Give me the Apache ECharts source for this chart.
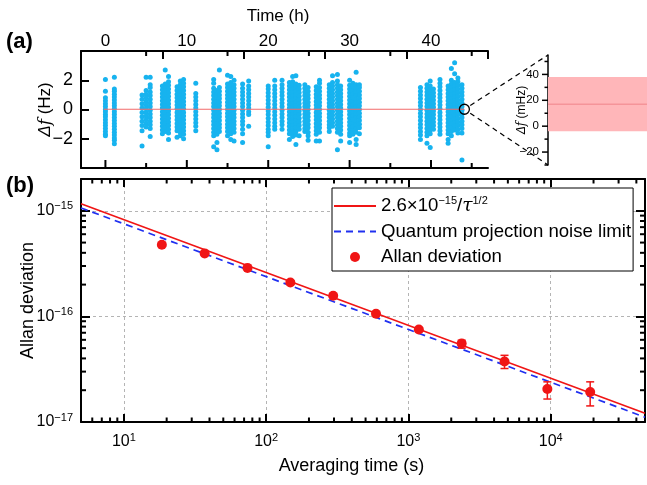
<!DOCTYPE html>
<html><head><meta charset="utf-8">
<script src="https://cdn.jsdelivr.net/npm/echarts@6/dist/echarts.min.js"></script>
<style>html,body{margin:0;padding:0;background:#fff}#c{width:647px;height:485px}</style>
</head><body><div id="c"></div>
<script>
// ---------- Panel (a): frequency deviation vs time ----------
const aColTimes = [0.0, 1.1, 4.5, 5.0, 5.5, 7.0, 7.35, 7.75, 8.8, 9.2, 9.6, 11.1, 13.3, 13.7, 14.0, 15.0, 15.4, 15.8, 16.85, 17.6,
  20.0, 20.8, 21.7, 22.6, 23.0, 23.4, 23.8, 24.5, 24.9, 25.9, 26.3, 27.5, 27.9, 28.5, 28.9, 30.0, 30.4, 30.8, 31.2,
  38.7, 39.5, 39.9, 40.3, 41.1, 42.1, 42.5, 42.9, 43.3, 43.8];
const aColValues = [
  [2.05,1.25,0.8,0.6,0.4,0.2,0.0,-0.15,-0.35,-0.5,-0.7,-0.9,-1.1,-1.3,-1.5,-1.7,-1.8],
  [2.2,1.4,1.25,1.05,0.85,0.65,0.45,0.25,0.05,-0.15,-0.35,-0.55,-0.75,-0.95,-1.15,-1.35,-1.55,-1.75,-1.95,-2.1,-2.35],
  [1.0,0.7,0.4,0.1,-0.2,-0.5,-0.8,-1.1,-1.45,-2.5],
  [2.2,1.3,1.05,0.8,0.55,0.3,0.05,-0.2,-0.45,-0.7,-0.95,-1.2],
  [2.2,1.7,1.5,1.2,0.95,0.7,0.45,0.2,-0.05,-0.3,-0.55,-0.8,-1.05,-1.3,-1.85],
  [1.6,1.35,1.1,0.85,0.6,0.35,0.1,-0.15,-0.4,-0.65,-0.9,-1.15,-1.4,-1.65],
  [2.7,1.75,1.5,1.25,1.0,0.75,0.5,0.25,0.0,-0.25,-0.5,-0.75,-1.0,-1.25,-1.5],
  [2.25,1.9,1.65,1.4,1.15,0.9,0.65,0.4,0.15,-0.1,-0.35,-0.6,-0.85,-1.1,-1.35,-1.6,-2.05],
  [1.55,1.3,1.05,0.8,0.55,0.3,0.05,-0.2,-0.45,-0.7,-0.95,-1.2,-1.45,-1.9],
  [1.95,1.7,1.45,1.2,0.95,0.7,0.45,0.2,-0.05,-0.3,-0.55,-0.8,-1.05,-1.3,-1.55,-1.8],
  [2.05,1.8,1.55,1.3,1.05,0.8,0.55,0.3,0.05,-0.2,-0.45,-0.7,-0.95,-1.2,-1.45,-1.7,-2.0],
  [1.8,1.1,0.85,0.6,0.35,0.1,-0.15,-0.4,-0.65,-0.9,-1.15,-1.45],
  [2.05,1.8,1.45,1.2,0.95,0.7,0.45,0.2,-0.05,-0.3,-0.55,-0.8,-1.05,-1.3,-1.55,-1.8,-2.55],
  [1.3,1.05,0.8,0.55,0.3,0.05,-0.2,-0.45,-0.7,-0.95,-1.2,-1.45,-1.7,-2.25,-2.75],
  [2.7,1.5,1.25,1.0,0.75,0.5,0.25,0.0,-0.25,-0.5,-0.75,-1.0,-1.25,-1.5],
  [2.35,1.75,1.5,1.25,1.0,0.75,0.5,0.25,0.0,-0.25,-0.5,-0.75,-1.0,-1.25,-1.5,-1.8],
  [2.25,1.85,1.6,1.35,1.1,0.85,0.6,0.35,0.1,-0.15,-0.4,-0.65,-0.9,-1.15,-1.4,-1.65,-2.05],
  [2.0,1.7,1.45,1.2,0.95,0.7,0.45,0.2,-0.05,-0.3,-0.55,-0.8,-1.05,-1.3,-1.55,-2.15],
  [1.75,1.45,1.2,0.95,0.7,0.45,0.2,-0.05,-0.3,-0.55,-0.8,-1.05,-1.35,-1.65,-2.25],
  [1.95,1.6,1.35,1.1,0.85,0.6,0.35,0.1,-0.15,-0.35,-1.15],
  [1.6,1.4,1.15,0.9,0.65,0.4,0.15,-0.1,-0.35,-0.6,-0.85,-1.1,-1.35,-1.55,-1.8,-2.55],
  [2.0,1.6,1.35,1.1,0.85,0.6,0.35,0.1,-0.15,-0.4,-0.65,-0.9,-1.15,-1.35],
  [2.0,1.7,1.45,1.2,0.95,0.7,0.45,0.2,-0.05,-0.3,-0.55,-0.8,-1.05,-1.35],
  [1.85,1.6,1.35,1.1,0.85,0.6,0.35,0.1,-0.15,-0.4,-0.65,-0.9,-1.15,-1.4,-1.65,-2.05],
  [2.25,1.9,1.65,1.4,1.15,0.9,0.65,0.4,0.15,-0.1,-0.35,-0.6,-0.85,-1.1,-1.35,-1.6,-1.85],
  [2.3,1.75,1.5,1.25,1.0,0.75,0.5,0.25,0.0,-0.25,-0.5,-0.75,-1.0,-1.25,-1.5,-1.75,-2.4],
  [1.65,1.4,1.15,0.9,0.65,0.4,0.15,-0.1,-0.35,-0.6,-0.85,-1.1,-1.35,-1.8],
  [1.7,1.45,1.2,0.95,0.7,0.45,0.2,-0.05,-0.3,-0.55,-0.8,-1.05,-1.3,-1.5],
  [1.5,1.25,1.0,0.75,0.5,0.25,0.0,-0.25,-0.5,-0.75,-1.0,-1.25,-1.55,-1.8,-2.1],
  [1.55,1.3,1.05,0.8,0.55,0.3,0.05,-0.2,-0.45,-0.7,-0.95,-1.2,-1.45,-1.7,-2.15],
  [2.0,1.8,1.5,1.25,1.0,0.75,0.5,0.25,0.0,-0.25,-0.5,-0.75,-1.0,-1.25,-1.55,-2.15],
  [1.7,1.45,1.2,0.95,0.7,0.45,0.2,-0.05,-0.3,-0.55,-0.8,-1.05,-1.25,-1.5],
  [2.3,1.85,1.6,1.35,1.1,0.85,0.6,0.35,0.1,-0.15,-0.4,-0.65,-0.9,-1.15],
  [2.4,1.95,1.7,1.45,1.2,0.95,0.7,0.45,0.2,-0.05,-0.3,-0.55,-0.8,-1.05,-1.3,-1.55,-2.75],
  [1.6,1.35,1.1,0.85,0.6,0.35,0.1,-0.15,-0.4,-0.65,-0.9,-1.15,-1.4,-1.7,-2.15],
  [2.0,1.65,1.4,1.15,0.9,0.65,0.4,0.15,-0.1,-0.35,-0.6,-0.85,-1.1,-1.35,-1.6,-1.8,-2.25],
  [1.8,1.55,1.3,1.05,0.8,0.55,0.3,0.05,-0.2,-0.45,-0.7,-0.95,-1.2,-1.45,-1.7],
  [2.55,1.7,1.45,1.2,0.95,0.7,0.45,0.2,-0.05,-0.3,-0.55,-0.8,-1.05,-1.3,-1.55,-2.05,-2.4],
  [1.7,1.5,1.25,1.0,0.75,0.5,0.25,0.0,-0.25,-0.5,-0.75,-1.0,-1.25,-1.65],
  [1.5,1.25,1.0,0.75,0.5,0.25,0.0,-0.25,-0.5,-0.75,-1.0,-1.25,-1.5,-1.75,-2.05],
  [1.7,1.45,1.2,0.95,0.7,0.45,0.2,-0.05,-0.3,-0.55,-0.8,-1.05,-1.3,-1.55,-1.8,-2.3],
  [1.95,1.6,1.35,1.1,0.85,0.6,0.35,0.1,-0.15,-0.4,-0.65,-0.9,-1.15,-1.4,-1.65,-2.6],
  [1.4,1.15,0.9,0.65,0.4,0.15,-0.1,-0.35,-0.6,-0.85,-1.1,-1.35],
  [2.05,1.8,1.55,1.3,1.05,0.8,0.55,0.3,0.05,-0.2,-0.45,-0.7,-0.95,-1.2,-1.45,-1.7],
  [1.6,1.35,1.1,0.85,0.6,0.35,0.1,-0.15,-0.4,-0.65,-0.9,-1.15,-1.4,-1.65,-2.05,-2.3],
  [2.8,2.0,1.75,1.5,1.25,1.0,0.75,0.5,0.25,0.0,-0.25,-0.5,-0.75,-1.0,-1.25,-1.5,-1.8],
  [3.2,2.45,1.85,1.6,1.35,1.1,0.85,0.6,0.35,0.1,-0.15,-0.4,-0.65,-0.9,-1.15,-1.4],
  [2.15,1.9,1.65,1.4,1.15,0.9,0.65,0.4,0.15,-0.1,-0.35,-0.6,-0.85,-1.1,-1.35,-1.6],
  [1.7,1.45,1.2,0.95,0.7,0.45,0.2,-0.05,-0.3,-0.55,-0.8,-1.05,-1.3,-1.6,-3.45]
];
const aMeanLineTimes = [-0.2, 44.1];
const aMeanLineValues = [0.017, 0.017];
const aZoomPoint = [44.1, 0.017];
const aTimeLabels = [0, 10, 20, 30, 40];
const aTimeMinor = [5, 15, 25, 35, 45];
const aFreqLabels = [-2, 0, 2];

// ---------- Inset ----------
const insetMean = 17;        // mHz
const insetBand = [-4, 38];  // mHz
const insetLabels = [-20, 0, 20, 40];
const insetMinor = [-30, -10, 10, 30, 50];

// ---------- Panel (b): Allan deviation ----------
const tau = [18.5, 37, 74, 148, 296, 592, 1184, 2368, 4736, 9472, 18944];
const adev = [4.77e-16, 3.95e-16, 2.88e-16, 2.09e-16, 1.57e-16, 1.06e-16, 7.5e-17, 5.53e-17, 3.74e-17, 2.05e-17, 1.92e-17];
const adevLow = [4.70e-16, 3.88e-16, 2.82e-16, 2.04e-16, 1.53e-16, 1.03e-16, 7.2e-17, 5.0e-17, 3.21e-17, 1.65e-17, 1.42e-17];
const adevHigh = [4.84e-16, 4.02e-16, 2.94e-16, 2.14e-16, 1.61e-16, 1.09e-16, 7.8e-17, 5.95e-17, 4.28e-17, 2.40e-17, 2.40e-17];
const fitTau = [5, 46000];
const fitVals = [1.163e-15, 1.212e-17];   // 2.6e-15 / sqrt(tau)
const qpnTau = [5, 46000];
const qpnVals = [1.064e-15, 1.110e-17];
const xMajor = [10, 100, 1000, 10000];
const xMinor = [6,7,8,9,20,30,40,50,60,70,80,90,200,300,400,500,600,700,800,900,2000,3000,4000,5000,6000,7000,8000,9000,20000,30000,40000];
const yMajor = [1e-17, 1e-16, 1e-15];
const yMinor = [2e-17,3e-17,4e-17,5e-17,6e-17,7e-17,8e-17,9e-17,2e-16,3e-16,4e-16,5e-16,6e-16,7e-16,8e-16,9e-16,2e-15];

const FONT = 'Liberation Sans, Arial, sans-serif';
const fitName = 'fit';
const qpnName = 'Quantum projection noise limit';
const adName = 'Allan deviation';

const aData = [];
aColTimes.forEach((t, i) => aColValues[i].forEach(v => aData.push([t, v])));

function pow10Label(v) {
  const e = Math.round(Math.log10(v));
  return '{b|10}{s|' + (e < 0 ? '\u2212' : '') + Math.abs(e) + '}';
}
const powRich = {
  b: { fontSize: 16, fontFamily: FONT, color: '#000', lineHeight: 20, verticalAlign: 'middle' },
  s: { fontSize: 11, fontFamily: FONT, color: '#000', lineHeight: 11, verticalAlign: 'top' }
};

const blackLine = { show: true, onZero: false, lineStyle: { color: '#000', width: 2 } };
const hideTick = { show: false };
function nativeTick(len, inside) {
  return { show: true, inside: inside !== false, length: len, lineStyle: { color: '#000', width: 2 } };
}

const chart = echarts.init(document.getElementById('c'), null, { renderer: 'canvas' });

const option = {
  animation: false,
  backgroundColor: '#fff',
  textStyle: { fontFamily: FONT },
  grid: [
    { left: 81, top: 51, width: 407, height: 117 },
    { left: 81, top: 179, width: 564, height: 243 },
    { left: 548, top: 55, width: 99, height: 110 }
  ],
  legend: {
    data: [
      { name: fitName, itemStyle: { opacity: 0 } },
      { name: qpnName, itemStyle: { opacity: 0 } },
      { name: adName }
    ],
    orient: 'vertical',
    left: 332, top: 188,
    itemWidth: 42, itemHeight: 10, itemGap: 3.5,
    padding: [7, 2, 3, 1],
    borderColor: '#000', borderWidth: 1, backgroundColor: '#fff',
    formatter: n => n === fitName ? '2.6×10{s|\u221215}/{t|τ}{s|1/2}' : n,
    textStyle: {
      fontSize: 18.6, color: '#000', fontFamily: FONT, lineHeight: 22,
      rich: {
        s: { fontSize: 11, fontFamily: FONT, color: '#000', lineHeight: 11, verticalAlign: 'top' },
        t: { fontSize: 18.6, fontFamily: 'DejaVu Serif, serif', fontStyle: 'italic', color: '#000', lineHeight: 22 }
      }
    }
  },
  xAxis: [
    // 0: panel a top (labels)
    { type: 'value', gridIndex: 0, position: 'top', min: -3, max: 47, interval: 10, axisLine: blackLine, axisTick: nativeTick(8),
      axisLabel: { customValues: aTimeLabels, fontSize: 17, color: '#000', margin: 1, fontFamily: FONT },
      splitLine: { show: false },
      name: 'Time (h)', nameLocation: 'middle', nameGap: 26, nameMoveOverlap: false,
      nameTextStyle: { fontSize: 17, color: '#000', fontFamily: FONT, padding: [0, 13, 0, 0] } },
    // 1: panel a bottom
    { type: 'value', gridIndex: 0, position: 'bottom', min: -3, max: 47, axisLine: blackLine, axisTick: hideTick,
      axisLabel: { show: false }, splitLine: { show: false } },
    // 2: panel b bottom (log)
    { type: 'log', logBase: 10, gridIndex: 1, position: 'bottom', min: 5, max: 46000, axisLine: blackLine, axisTick: nativeTick(8),
      axisLabel: { customValues: xMajor, formatter: pow10Label, rich: powRich, margin: 10 },
      splitLine: { show: true, lineStyle: { color: '#b4b4b4', type: [3, 3], width: 1 } },
      name: 'Averaging time (s)', nameLocation: 'middle', nameGap: 35, nameMoveOverlap: false,
      nameTextStyle: { fontSize: 18, color: '#000', fontFamily: FONT, padding: [0, 23, 0, 0] } },
    // 3: panel b top
    { type: 'log', logBase: 10, gridIndex: 1, position: 'top', min: 5, max: 46000, axisLine: blackLine, axisTick: nativeTick(8),
      axisLabel: { show: false }, splitLine: { show: false } },
    // 4: inset hidden x
    { type: 'value', gridIndex: 2, min: 0, max: 1, show: false }
  ],
  yAxis: [
    // 0: panel a left
    { type: 'value', gridIndex: 0, position: 'left', min: -4, max: 4, interval: 2, axisLine: blackLine, axisTick: nativeTick(8),
      axisLabel: { customValues: aFreqLabels, fontSize: 18, color: '#000', margin: 8, fontFamily: FONT,
        formatter: v => (v < 0 ? '\u2212' + Math.abs(v) : String(v)) },
      splitLine: { show: false },
      name: '{d|Δ}{f|f} (Hz)', nameLocation: 'middle', nameGap: 27, nameMoveOverlap: false,
      nameTextStyle: { fontSize: 17, color: '#000', fontFamily: FONT,
        rich: { d: { fontSize: 17, fontFamily: FONT, color: '#000', fontStyle: 'italic' },
                f: { fontSize: 17, fontFamily: 'DejaVu Serif, serif', fontStyle: 'italic', color: '#000' } } } },
    // 1: panel b left (log)
    { type: 'log', logBase: 10, gridIndex: 1, position: 'left', min: 1e-17, max: 2e-15, axisLine: blackLine, axisTick: nativeTick(9),
      axisLabel: { customValues: yMajor, formatter: pow10Label, rich: powRich, margin: 8 },
      splitLine: { show: true, lineStyle: { color: '#b4b4b4', type: [3, 3], width: 1 } },
      name: 'Allan deviation', nameLocation: 'middle', nameGap: 44, nameMoveOverlap: false,
      nameTextStyle: { fontSize: 18, color: '#000', fontFamily: FONT } },
    // 2: panel b right
    { type: 'log', logBase: 10, gridIndex: 1, position: 'right', min: 1e-17, max: 2e-15, axisLine: blackLine, axisTick: nativeTick(9),
      axisLabel: { show: false }, splitLine: { show: false } },
    // 3: inset axis
    { type: 'value', gridIndex: 2, position: 'left', min: -30, max: 55,
      axisLine: { show: true, onZero: false, lineStyle: { color: '#000', width: 1.5 } }, axisTick: hideTick,
      axisLabel: { customValues: insetLabels, fontSize: 11.5, color: '#000', margin: 9, fontFamily: FONT,
        formatter: v => (v < 0 ? '\u2212' + Math.abs(v) : String(v)) },
      splitLine: { show: false },
      name: '{d|Δ}{f|f} (mHz)', nameLocation: 'middle', nameGap: 20, nameMoveOverlap: false,
      nameTextStyle: { fontSize: 12, color: '#000', fontFamily: FONT,
        rich: { d: { fontSize: 12, fontFamily: FONT, color: '#000', fontStyle: 'italic' },
                f: { fontSize: 12, fontFamily: 'DejaVu Serif, serif', fontStyle: 'italic', color: '#000' } } } }
  ],
  series: [
    { type: 'scatter', name: 'df', xAxisIndex: 0, yAxisIndex: 0, data: aData,
      symbol: 'circle', symbolSize: 5, itemStyle: { color: '#17b3ef', opacity: 1 }, z: 2 },
    { type: 'line', name: 'mean', xAxisIndex: 0, yAxisIndex: 0,
      data: aMeanLineTimes.map((t, i) => [t, aMeanLineValues[i]]),
      symbol: 'none', lineStyle: { color: '#f26b6b', width: 1 }, z: 3 },
    { type: 'scatter', name: 'zoom', xAxisIndex: 0, yAxisIndex: 0, data: [aZoomPoint],
      symbol: 'circle', symbolSize: 10,
      itemStyle: { color: 'rgba(0,0,0,0)', borderColor: '#000', borderWidth: 1.3, opacity: 1 }, z: 4 },
    // inset
    { type: 'line', name: 'insetMean', xAxisIndex: 4, yAxisIndex: 3,
      data: [[0, insetMean], [1, insetMean]], symbol: 'none',
      lineStyle: { color: '#f59499', width: 1.5 }, z: 3,
      markArea: { silent: true, itemStyle: { color: '#ffb6b9', opacity: 1 },
        data: [[{ yAxis: insetBand[0] }, { yAxis: insetBand[1] }]] } },
    // panel b
    { type: 'line', name: fitName, xAxisIndex: 2, yAxisIndex: 1,
      data: fitTau.map((t, i) => [t, fitVals[i]]), symbol: 'none',
      lineStyle: { color: '#f01515', width: 1.6 }, itemStyle: { color: '#f01515' }, z: 3 },
    { type: 'line', name: qpnName, xAxisIndex: 2, yAxisIndex: 1,
      data: qpnTau.map((t, i) => [t, qpnVals[i]]), symbol: 'none',
      lineStyle: { color: '#2030f0', width: 1.7, type: [7, 5] }, itemStyle: { color: '#2030f0' }, z: 3 },
    { type: 'custom', name: 'err', xAxisIndex: 2, yAxisIndex: 1,
      data: tau.map((t, i) => [t, adevLow[i], adevHigh[i]]),
      encode: { x: 0, y: [1, 2] },
      renderItem: (params, api) => {
        const lo = api.coord([api.value(0), api.value(1)]);
        const hi = api.coord([api.value(0), api.value(2)]);
        const cw = 4, st = { stroke: '#f01515', lineWidth: 1.5 };
        return { type: 'group', children: [
          { type: 'line', shape: { x1: lo[0], y1: lo[1], x2: hi[0], y2: hi[1] }, style: st },
          { type: 'line', shape: { x1: lo[0] - cw, y1: lo[1], x2: lo[0] + cw, y2: lo[1] }, style: st },
          { type: 'line', shape: { x1: hi[0] - cw, y1: hi[1], x2: hi[0] + cw, y2: hi[1] }, style: st }
        ] };
      }, z: 4 },
    { type: 'scatter', name: adName, xAxisIndex: 2, yAxisIndex: 1,
      data: tau.map((t, i) => [t, adev[i]]), symbol: 'circle', symbolSize: 10,
      itemStyle: { color: '#f01515', opacity: 1 }, z: 5 }
  ]
};
chart.setOption(option);

// ---- Extra tick marks (minor / bottom), placed through the axes' own scales ----
function tickLines(xIdx, yIdx, pairs, dim, len, dir, lw) {
  return pairs.map(pv => {
    const p = chart.convertToPixel({ xAxisIndex: xIdx, yAxisIndex: yIdx }, pv);
    const x2 = dim === 'x' ? p[0] : p[0] + dir * len;
    const y2 = dim === 'x' ? p[1] + dir * len : p[1];
    return { type: 'line', z: 20,
      shape: { x1: p[0], y1: p[1], x2: x2, y2: y2 }, style: { stroke: '#000', lineWidth: lw } };
  });
}
const tickEls = [].concat(
  tickLines(0, 0, aTimeMinor.map(v => [v, 4]), 'x', 5, 1, 2),
  tickLines(0, 0, aTimeLabels.map(v => [v, -4]), 'x', 8, -1, 2),
  tickLines(0, 0, aTimeMinor.map(v => [v, -4]), 'x', 5, -1, 2),
  tickLines(2, 1, xMinor.map(v => [v, 1e-17]), 'x', 4.5, -1, 2),
  tickLines(2, 1, xMinor.map(v => [v, 2e-15]), 'x', 4.5, 1, 2),
  tickLines(2, 1, yMinor.map(v => [5, v]), 'y', 5, 1, 2),
  tickLines(2, 1, yMinor.map(v => [46000, v]), 'y', 5, -1, 2),
  tickLines(4, 3, insetLabels.map(v => [0, v]), 'y', 6, -1, 1.5),
  tickLines(4, 3, insetMinor.map(v => [0, v]), 'y', 3.5, -1, 1.5)
);

// Connector lines between the zoom circle and the inset axis, plus panel tags
const c = chart.convertToPixel({ xAxisIndex: 0, yAxisIndex: 0 }, aZoomPoint);
const topEnd = chart.convertToPixel({ xAxisIndex: 4, yAxisIndex: 3 }, [0, 55]);
const botEnd = chart.convertToPixel({ xAxisIndex: 4, yAxisIndex: 3 }, [0, -30]);
function seg(p) {
  const dx = p[0] - c[0], dy = p[1] - c[1], L = Math.hypot(dx, dy), r = 7;
  return { type: 'line', shape: { x1: c[0] + dx / L * r, y1: c[1] + dy / L * r, x2: p[0], y2: p[1] },
    style: { stroke: '#000', lineWidth: 1.2, lineDash: [5, 4] }, z: 10 };
}
chart.setOption({ graphic: tickEls.concat([
  seg(topEnd), seg(botEnd),
  { type: 'text', left: 6, top: 31, style: { text: '(a)', fontSize: 22, fontWeight: 'bold', fontFamily: FONT, fill: '#000' } },
  { type: 'text', left: 6, top: 175, style: { text: '(b)', fontSize: 22, fontWeight: 'bold', fontFamily: FONT, fill: '#000' } }
]) });
</script></body></html>
